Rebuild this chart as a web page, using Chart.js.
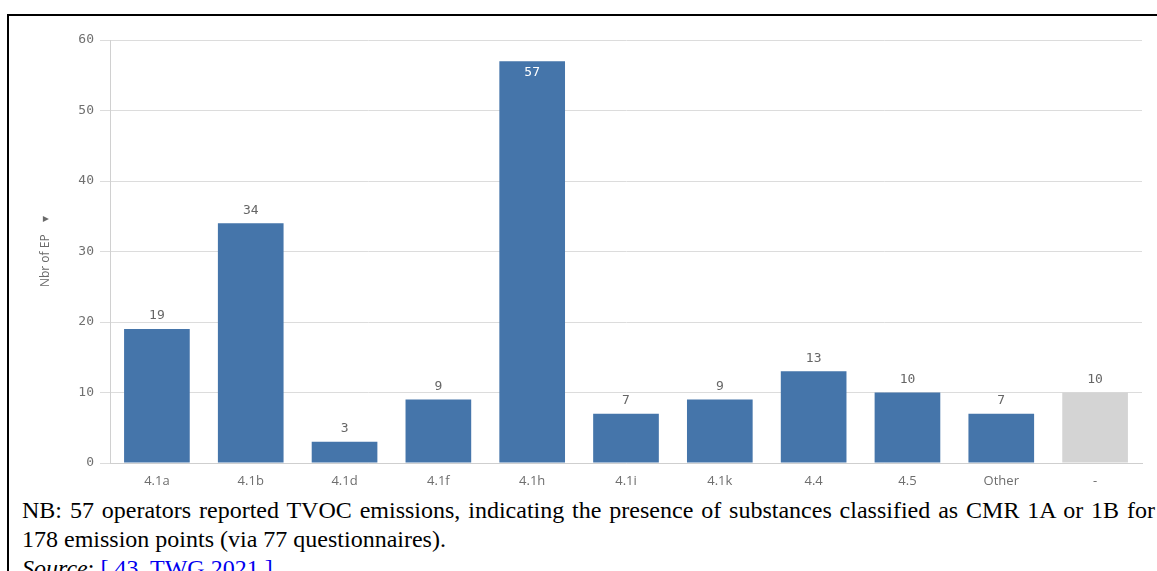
<!DOCTYPE html>
<html>
<head>
<meta charset="utf-8">
<script src="https://cdn.jsdelivr.net/npm/chart.js@4.4.1/dist/chart.umd.min.js"></script>
<style>
    body { margin: 0; background: #fff; width: 1157px; height: 571px; overflow: hidden; position: relative; }
    #frame { position: absolute; left: 7px; top: 14px; width: 1160px; height: 600px; border-top: 2px solid #000; border-left: 2px solid #000; }
    #chartBox { position: absolute; left: 10px; top: 17px; width: 1147px; height: 475px; }
    #caption { position: absolute; left: 22px; top: 496px; width: 1133px; font-family: "Liberation Serif", "Times New Roman", serif; font-size: 24px; line-height: 29px; color: #000; white-space: nowrap; }
    #caption .full { text-align: justify; text-align-last: justify; }
    #caption a { color: #0000ee; text-decoration: underline; }
</style>
</head>
<body>
<div id="frame"></div>
<div id="chartBox"><canvas id="barChart"></canvas></div>
<div id="caption">
    <div class="full">NB: 57 operators reported TVOC emissions, indicating the presence of substances classified as CMR 1A or 1B for</div>
    <div>178 emission points (via 77 questionnaires).</div>
    <div><i>Source</i>: <a>[ 43, TWG 2021 ]</a></div>
</div>
<script>
const categories = ['4.1a', '4.1b', '4.1d', '4.1f', '4.1h', '4.1i', '4.1k', '4.4', '4.5', 'Other', '-'];
const nbrOfEP = [19, 34, 3, 9, 57, 7, 9, 13, 10, 7, 10];
const yTicks = [0, 10, 20, 30, 40, 50, 60];

const blue = '#4575aa';
const grey = '#d4d4d4';

// value labels above the bars, inside when the bar reaches the top
const valueLabels = {
    id: 'valueLabels',
    afterDatasetsDraw(chart) {
        const ctx = chart.ctx;
        const meta = chart.getDatasetMeta(0);
        ctx.save();
        ctx.font = '13px "DejaVu Sans Mono", monospace';
        ctx.textAlign = 'center';
        ctx.textBaseline = 'middle';
        meta.data.forEach((bar, i) => {
            let y = bar.y - 13;
            if (bar.y - 25 < chart.chartArea.top) {
                ctx.fillStyle = '#ffffff';
                y = bar.y + 11;
            } else {
                ctx.fillStyle = '#666666';
            }
            ctx.fillText(String(nbrOfEP[i]), bar.x, y);
        });
        ctx.restore();
    }
};

new Chart(document.getElementById('barChart').getContext('2d'), {
    type: 'bar',
    data: {
        labels: categories,
        datasets: [{
            data: nbrOfEP,
            backgroundColor: categories.map(c => c === '-' ? grey : blue),
            barPercentage: 0.7,
            categoryPercentage: 1.0
        }]
    },
    options: {
        responsive: true,
        maintainAspectRatio: false,
        animation: false,
        layout: { padding: { top: 23, right: 15, left: 28, bottom: 0 } },
        plugins: {
            legend: { display: false },
            tooltip: { enabled: false }
        },
        scales: {
            y: {
                min: 0,
                max: 60,
                afterBuildTicks: scale => { scale.ticks = yTicks.map(v => ({ value: v })); },
                afterFit: scale => { scale.width = 72; },
                grid: { color: '#dcdcdc', tickLength: 10, lineWidth: 1 },
                border: { color: '#d0d0d0' },
                ticks: {
                    color: '#707070',
                    padding: 6,
                    font: { family: '"DejaVu Sans Mono", monospace', size: 13 }
                },
                title: {
                    display: true,
                    text: 'Nbr of EP    \u25BE',
                    color: '#6a6a6a',
                    padding: 0,
                    font: { family: '"Open Sans", sans-serif', size: 12 }
                }
            },
            x: {
                afterFit: scale => { scale.height = 29; },
                grid: { display: false },
                border: { color: '#cfcfcf' },
                ticks: {
                    color: '#6e6e6e',
                    padding: 2,
                    font: { family: '"Open Sans", sans-serif', size: 13 }
                }
            }
        }
    },
    plugins: [valueLabels]
});
</script>
</body>
</html>
